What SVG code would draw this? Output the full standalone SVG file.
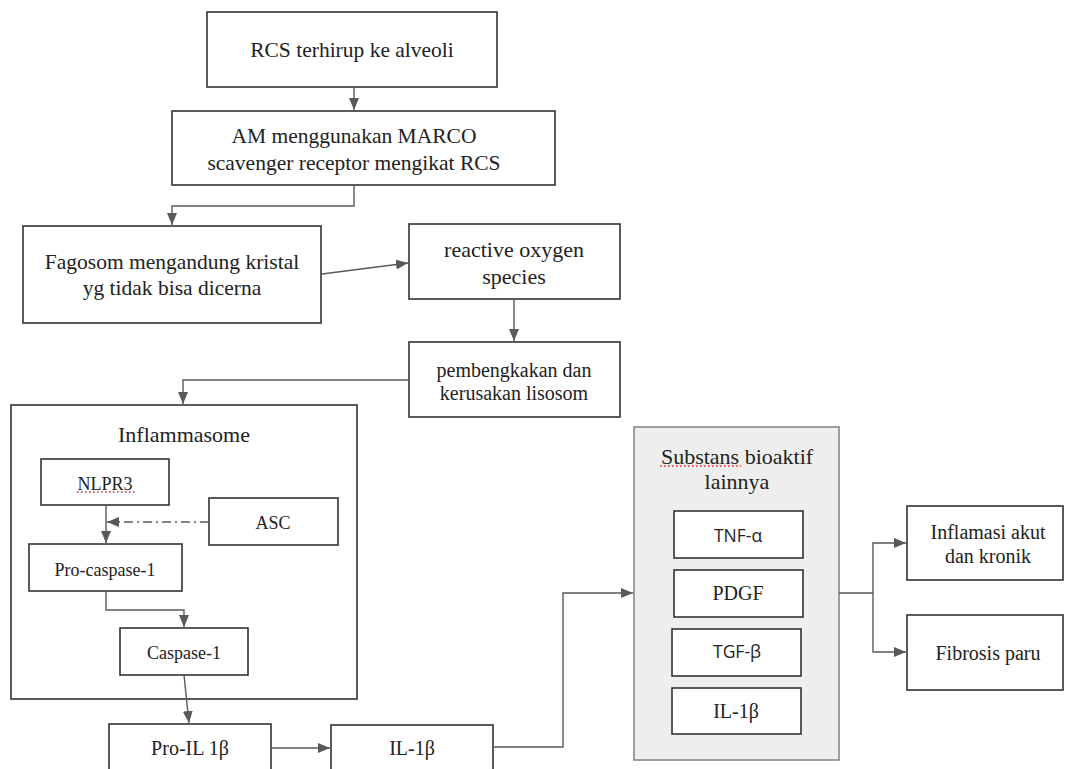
<svg xmlns="http://www.w3.org/2000/svg" width="1065" height="769" viewBox="0 0 1065 769">
<style>
.box{fill:#fff;stroke:#333;stroke-width:1.6}
.gbox{fill:#eeeeee;stroke:#888;stroke-width:1.6}
.t{font-family:"Liberation Serif","Times New Roman",serif;fill:#222;text-anchor:middle}
.s{font-family:"Open Sans","Liberation Sans",sans-serif;fill:#222;text-anchor:middle}
.c{fill:none;stroke:#595959;stroke-width:1.4}
.sq{fill:none;stroke:#e03030;stroke-width:1.6;stroke-dasharray:1.6 2.4}
</style>
<defs>
<marker id="ah" markerUnits="userSpaceOnUse" markerWidth="12" markerHeight="10" refX="12" refY="5" orient="auto">
<path d="M0,0 L12,5 L0,10 Z" fill="#595959"/>
</marker>
</defs>
<rect width="1065" height="769" fill="#fff"/>
<g id="n1"><rect class="box" x="207" y="12" width="290" height="75"/><text class="t" x="352" y="57" font-size="21.5">RCS terhirup ke alveoli</text></g>
<g id="n2"><rect class="box" x="172" y="111" width="383" height="74"/><text class="t" x="354" y="143" font-size="21.5">AM menggunakan MARCO</text><text class="t" x="354" y="170" font-size="21.5">scavenger receptor mengikat RCS</text></g>
<g id="n3"><rect class="box" x="23" y="226" width="298" height="97"/><text class="t" x="172" y="269" font-size="21.5">Fagosom mengandung kristal</text><text class="t" x="172" y="295" font-size="21.5">yg tidak bisa dicerna</text></g>
<g id="n4"><rect class="box" x="409" y="224" width="211" height="75"/><text class="t" x="514" y="257" font-size="22">reactive oxygen</text><text class="t" x="514" y="284" font-size="22">species</text></g>
<g id="n5"><rect class="box" x="409" y="342" width="211" height="75"/><text class="t" x="514" y="377" font-size="20">pembengkakan dan</text><text class="t" x="514" y="400" font-size="20">kerusakan lisosom</text></g>
<g id="inflammasome"><rect class="box" x="11" y="405" width="346" height="294"/><text class="t" x="184" y="442" font-size="22">Inflammasome</text></g>
<g id="nlpr3"><rect class="box" x="41" y="459" width="128" height="46"/><text class="t" x="105" y="490" font-size="18">NLPR3</text><path class="sq" d="M77,492 H136"/></g>
<g id="asc"><rect class="box" x="209" y="498" width="129" height="47"/><text class="t" x="273" y="529" font-size="18">ASC</text></g>
<g id="procasp"><rect class="box" x="29" y="544" width="153" height="47"/><text class="t" x="105" y="576" font-size="18">Pro-caspase-1</text></g>
<g id="casp"><rect class="box" x="120" y="628" width="128" height="47"/><text class="t" x="184" y="659" font-size="18">Caspase-1</text></g>
<g id="proil"><rect class="box" x="109" y="724" width="162" height="60"/><text class="t" x="190" y="755" font-size="20">Pro-IL 1β</text></g>
<g id="il1b"><rect class="box" x="331" y="725" width="162" height="60"/><text class="t" x="412" y="755" font-size="20">IL-1β</text></g>
<g id="substans"><rect class="gbox" x="634" y="427" width="205" height="333"/><text class="t" x="737" y="464" font-size="22">Substans bioaktif</text><text class="t" x="737" y="489" font-size="22">lainnya</text><path class="sq" d="M660,466 H741"/></g>
<g id="tnf"><rect class="box" x="674" y="511" width="129" height="47"/><text class="s" x="738" y="542" font-size="17.5">TNF-α</text></g>
<g id="pdgf"><rect class="box" x="674" y="570" width="129" height="47"/><text class="t" x="738" y="600" font-size="20">PDGF</text></g>
<g id="tgf"><rect class="box" x="672" y="629" width="129" height="47"/><text class="s" x="737" y="658" font-size="17.5">TGF-β</text></g>
<g id="il1b2"><rect class="box" x="672" y="688" width="129" height="46"/><text class="t" x="736" y="718" font-size="20">IL-1β</text></g>
<g id="inflamasi"><rect class="box" x="907" y="506" width="156" height="74"/><text class="t" x="988" y="539" font-size="20">Inflamasi akut</text><text class="t" x="988" y="563" font-size="20">dan kronik</text></g>
<g id="fibrosis"><rect class="box" x="907" y="615" width="156" height="75"/><text class="t" x="988" y="660" font-size="20">Fibrosis paru</text></g>
<g id="connectors">
<path class="c" d="M354,87 V110" marker-end="url(#ah)"/>
<path class="c" d="M354,185 V206 H172 V225" marker-end="url(#ah)"/>
<path class="c" d="M322,274 L408,263" marker-end="url(#ah)"/>
<path class="c" d="M514,299 V341" marker-end="url(#ah)"/>
<path class="c" d="M409,380 H183 V404" marker-end="url(#ah)"/>
<path class="c" d="M106,505 V543" marker-end="url(#ah)"/>
<path class="c" d="M209,522 H107" stroke-dasharray="9 4 2 4" marker-end="url(#ah)"/>
<path class="c" d="M106,591 V610 H184 V627" marker-end="url(#ah)"/>
<path class="c" d="M184,675 L189,723" marker-end="url(#ah)"/>
<path class="c" d="M271,748 H330" marker-end="url(#ah)"/>
<path class="c" d="M493,747 H563 V593 H633" marker-end="url(#ah)"/>
<path class="c" d="M839,593 H873 V543 H906" marker-end="url(#ah)"/>
<path class="c" d="M873,593 V652 H906" marker-end="url(#ah)"/>
</g>
</svg>
